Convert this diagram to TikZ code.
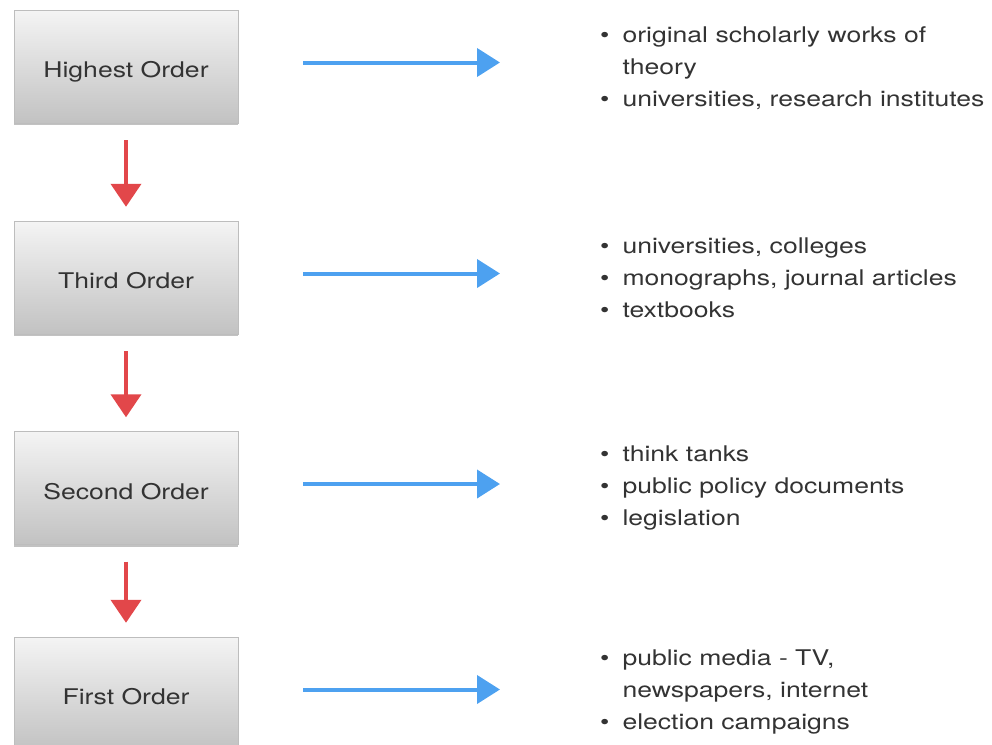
\documentclass[tikz,border=0pt]{standalone}
\usepackage{fontspec}
\setmainfont{TeX Gyre Heros}[FakeStretch=1.23]
\usetikzlibrary{arrows.meta,shadows}
\definecolor{txt}{HTML}{333333}
\definecolor{boxtop}{HTML}{F4F4F4}
\definecolor{boxbot}{HTML}{C2C2C2}
\definecolor{boxedge}{HTML}{BDBDBD}
\definecolor{redarr}{HTML}{E2474A}
\definecolor{bluearr}{HTML}{4DA1F0}
\begin{document}
\begin{tikzpicture}[x=1pt,y=-1pt,
  font=\fontsize{21.6}{32}\selectfont,
  orderbox/.style={rectangle, minimum width=224pt, minimum height=113pt, inner sep=0pt,
    text height=22pt, text depth=0pt,
    top color=boxtop, bottom color=boxbot, draw=boxedge, line width=0.4pt, text=txt,
    drop shadow={shadow xshift=0pt, shadow yshift=-2pt, opacity=0.4, fill=black!60}},
  bullets/.style={anchor=west, inner sep=0pt, text=txt, align=left},
  downarrow/.style={draw=redarr, line width=4pt, -{Triangle[length=23pt,width=30pt]},
    shorten <=17pt, shorten >=14pt},
  rightarrow/.style={draw=bluearr, line width=4pt, -{Triangle[length=23pt,width=28pt]},
    shorten <=65pt, shorten >=100pt}]
\useasboundingbox (0,0) rectangle (992,744);
\clip (0,0) rectangle (992,744);
\node[orderbox] (b1) at (126,66.5) {Highest Order};
\node[orderbox] (b2) at (126,277.5) {Third Order};
\node[orderbox] (b3) at (126,488) {Second Order};
\node[orderbox] (b4) at (126,693.5) {First Order};
\newcommand{\bl}{\textbullet}
\node[bullets] (t1) at (600,68) {\begin{tabular}{@{}l@{\hspace{13pt}}l@{}}
\bl & original scholarly works of\\
 & theory\\
\bl & universities, research institutes
\end{tabular}};
\node[bullets] (t2) at (600,279) {\begin{tabular}{@{}l@{\hspace{13pt}}l@{}}
\bl & universities, colleges\\
\bl & monographs, journal articles\\
\bl & textbooks
\end{tabular}};
\node[bullets] (t3) at (600,487.5) {\begin{tabular}{@{}l@{\hspace{13pt}}l@{}}
\bl & think tanks\\
\bl & public policy documents\\
\bl & legislation
\end{tabular}};
\node[bullets] (t4) at (600,691) {\begin{tabular}{@{}l@{\hspace{13pt}}l@{}}
\bl & public media - TV,\\
 & newspapers, internet\\
\bl & election campaigns
\end{tabular}};
\draw[downarrow] (b1.south) -- (b2.north);
\draw[downarrow] (b2.south) -- (b3.north);
\draw[downarrow] (b3.south) -- (b4.north);
\draw[rightarrow] ([yshift=4pt]b1.east) -- ([yshift=4pt]b1.east -| t1.west);
\draw[rightarrow] ([yshift=4pt]b2.east) -- ([yshift=4pt]b2.east -| t2.west);
\draw[rightarrow] ([yshift=4pt]b3.east) -- ([yshift=4pt]b3.east -| t3.west);
\draw[rightarrow] ([yshift=4pt]b4.east) -- ([yshift=4pt]b4.east -| t4.west);
\end{tikzpicture}
\end{document}
